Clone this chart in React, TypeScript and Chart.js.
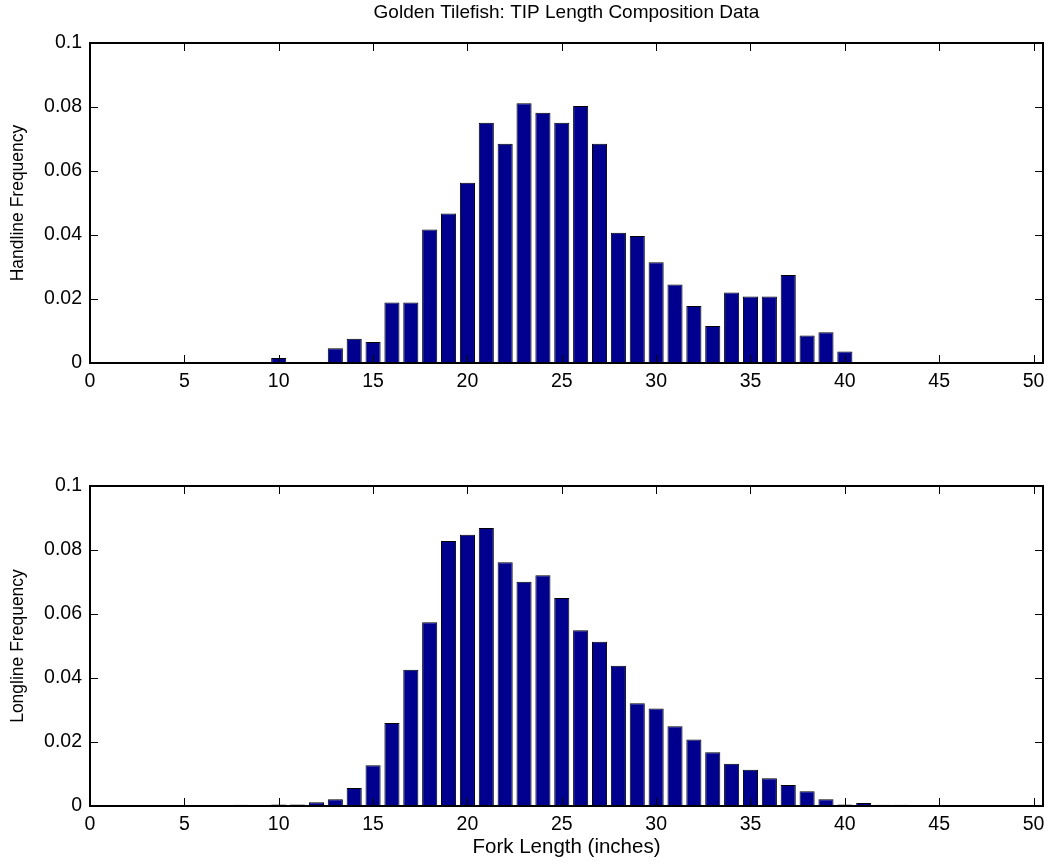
import React, { useEffect, useRef } from "react";
import { Chart, registerables } from "chart.js";

Chart.register(...registerables);

// Fork length bins (inches)
const forkLengths = [
  1, 2, 3, 4, 5, 6, 7, 8, 9, 10,
  11, 12, 13, 14, 15, 16, 17, 18, 19, 20,
  21, 22, 23, 24, 25, 26, 27, 28, 29, 30,
  31, 32, 33, 34, 35, 36, 37, 38, 39, 40,
  41, 42, 43, 44, 45, 46, 47, 48, 49, 50,
];

// Relative frequency per bin, handline gear
const handlineFreq = [
  0, 0, 0, 0, 0, 0, 0, 0, 0, 0.0016,
  0, 0, 0.0046, 0.0076, 0.0066, 0.0189, 0.0189, 0.0417, 0.0467, 0.0563,
  0.0751, 0.0685, 0.0812, 0.0782, 0.0751, 0.0803, 0.0685, 0.0407, 0.0397, 0.0315,
  0.0245, 0.0178, 0.0116, 0.022, 0.0208, 0.0208, 0.0275, 0.0086, 0.0096, 0.0036,
  0, 0, 0, 0, 0, 0, 0, 0, 0, 0,
];

// Relative frequency per bin, longline gear
const longlineFreq = [
  0, 0, 0, 0, 0, 0, 0, 0.0004, 0, 0.0005,
  0.0005, 0.0012, 0.0021, 0.0056, 0.0127, 0.0259, 0.0426, 0.0574, 0.0828, 0.0848,
  0.0869, 0.0762, 0.0701, 0.0721, 0.065, 0.0549, 0.0513, 0.0438, 0.0321, 0.0305,
  0.0249, 0.0208, 0.0168, 0.0132, 0.0113, 0.0087, 0.0066, 0.0046, 0.0021, 0.0005,
  0.0009, 0.0004, 0.0004, 0, 0, 0, 0, 0, 0, 0,
];

const xTickValues = [0, 5, 10, 15, 20, 25, 30, 35, 40, 45, 50];
const yTickValues = [0, 0.02, 0.04, 0.06, 0.08, 0.1];
const yTickLabels = ["0", "0.02", "0.04", "0.06", "0.08", "0.1"];

const chartTitle = "Golden Tilefish: TIP Length Composition Data";
const xAxisTitle = "Fork Length (inches)";
const topYAxisTitle = "Handline Frequency";
const bottomYAxisTitle = "Longline Frequency";

const FONT = "'Liberation Sans', Arial, Helvetica, sans-serif";
const BAR_FILL = "rgb(0,0,143)";

// Boxed axes with inward tick marks on all four sides
const boxPlugin = {
  id: "boxedAxes",
  afterDatasetsDraw(chart: any) {
    const { ctx, chartArea, scales } = chart;
    const { left, right, top, bottom } = chartArea;
    const x = scales.x;
    const y = scales.y;
    const tl = 8;
    ctx.save();
    ctx.strokeStyle = "#000";
    ctx.lineWidth = 1;
    ctx.beginPath();
    for (const v of xTickValues) {
      const px = Math.round(x.getPixelForValue(v)) + 0.5;
      ctx.moveTo(px, bottom);
      ctx.lineTo(px, bottom - tl);
      ctx.moveTo(px, top);
      ctx.lineTo(px, top + tl);
    }
    for (const v of yTickValues) {
      const py = Math.round(y.getPixelForValue(v)) + 0.5;
      ctx.moveTo(left, py);
      ctx.lineTo(left + tl, py);
      ctx.moveTo(right, py);
      ctx.lineTo(right - tl, py);
    }
    ctx.stroke();
    ctx.lineWidth = 2;
    ctx.strokeRect(left, top, right - left, bottom - top);
    ctx.restore();
  },
};

// Figure title above the upper axes
const titlePlugin = {
  id: "figureTitle",
  afterDraw(chart: any) {
    const text = chart.options.plugins.figureTitle?.text;
    if (!text) return;
    const { ctx, chartArea } = chart;
    ctx.save();
    ctx.fillStyle = "#000";
    ctx.font = `19px ${FONT}`;
    ctx.textAlign = "center";
    ctx.textBaseline = "middle";
    ctx.fillText(text, (chartArea.left + chartArea.right) / 2, 13);
    ctx.restore();
  },
};

type PanelProps = {
  values: number[];
  yTitle: string;
  xTitle?: string;
  title?: string;
  height: number;
  padTop: number;
  xAxisHeight: number;
};

function Panel({ values, yTitle, xTitle, title, height, padTop, xAxisHeight }: PanelProps) {
  const ref = useRef<HTMLCanvasElement | null>(null);

  useEffect(() => {
    if (!ref.current) return;
    const chart = new Chart(ref.current, {
      type: "bar",
      data: {
        datasets: [
          {
            data: forkLengths.map((x, i) => ({ x, y: values[i] })),
            backgroundColor: BAR_FILL,
            borderColor: "#000",
            borderWidth: 1,
            borderSkipped: false,
            barPercentage: 0.8,
            categoryPercentage: 1.0,
          },
        ],
      },
      options: {
        responsive: false,
        animation: false,
        events: [],
        layout: { padding: { top: padTop, right: 7, left: 0, bottom: 0 } },
        plugins: {
          legend: { display: false },
          tooltip: { enabled: false },
          figureTitle: { text: title },
        } as any,
        scales: {
          x: {
            type: "linear",
            offset: false,
            min: 0,
            max: 50.5,
            grid: { display: false, drawTicks: false, offset: false },
            border: { display: false },
            afterBuildTicks: (scale: any) => {
              scale.ticks = xTickValues.map((value) => ({ value }));
            },
            afterFit: (scale: any) => {
              scale.height = xAxisHeight;
              scale.paddingLeft = 0;
              scale.paddingRight = 0;
            },
            ticks: {
              color: "#000",
              font: { family: FONT, size: 19.5 },
              padding: 7,
              maxRotation: 0,
              autoSkip: false,
            },
            title: {
              display: !!xTitle,
              text: xTitle || "",
              color: "#000",
              font: { family: FONT, size: 20.5 },
              padding: { top: 0, bottom: 7 },
            },
          },
          y: {
            type: "linear",
            min: 0,
            max: 0.1,
            grid: { display: false, drawTicks: false },
            border: { display: false },
            afterBuildTicks: (scale: any) => {
              scale.ticks = yTickValues.map((value) => ({ value }));
            },
            afterFit: (scale: any) => {
              scale.width = 90;
              scale.paddingTop = 0;
              scale.paddingBottom = 0;
            },
            ticks: {
              color: "#000",
              font: { family: FONT, size: 19.5 },
              padding: 8,
              callback: (_v: any, i: number) => yTickLabels[i],
            },
            title: {
              display: true,
              text: yTitle,
              color: "#000",
              font: { family: FONT, size: 17.5 },
              padding: { top: 8, bottom: 0 },
            },
          },
        },
      },
      plugins: [boxPlugin, titlePlugin],
    } as any);
    return () => chart.destroy();
  }, [values, yTitle, xTitle, title, padTop, xAxisHeight]);

  return (
    <canvas
      ref={ref}
      width={1050}
      height={height}
      style={{ display: "block", width: 1050, height }}
    />
  );
}

export default function App() {
  return (
    <div
      style={{
        position: "absolute",
        left: 0,
        top: 0,
        width: 1050,
        height: 867,
        background: "#fff",
      }}
    >
      <Panel
        values={handlineFreq}
        yTitle={topYAxisTitle}
        title={chartTitle}
        height={433}
        padTop={43}
        xAxisHeight={70}
      />
      <Panel
        values={longlineFreq}
        yTitle={bottomYAxisTitle}
        xTitle={xAxisTitle}
        height={434}
        padTop={53}
        xAxisHeight={61}
      />
    </div>
  );
}
